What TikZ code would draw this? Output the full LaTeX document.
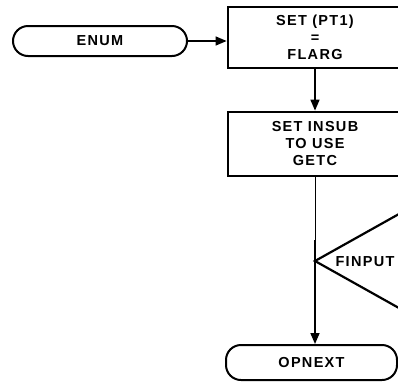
\documentclass[tikz,border=0pt]{standalone}
\usepackage{fontspec}
\setmainfont{Liberation Sans}[LetterSpace=9]
\usetikzlibrary{arrows.meta}
\begin{document}
\begin{tikzpicture}[x=1pt,y=-1pt,
  lbl/.style={font=\fontsize{14.5}{17}\selectfont\bfseries},
  term/.style={draw, line width=2pt, rounded corners=15pt, inner sep=0pt, lbl},
  proc/.style={draw, line width=2.8pt, minimum width=174pt, inner sep=0pt, align=center, lbl},
  flow/.style={line width=1.6pt, -{Triangle[length=11pt,width=9pt]}},
  thinflow/.style={line width=0.9pt},
  dec/.style={draw, line width=2.2pt},
]
\useasboundingbox (0,0) rectangle (398,381);
\clip (0,0) rectangle (398,381);
\node[term, minimum width=174pt, minimum height=30pt] (enum) at (100,41) {ENUM};
\node[proc, minimum height=61pt] (b1) at (315,37.5) {SET (PT1)\\=\\FLARG};
\node[proc, minimum height=64pt] (b2) at (315,144) {SET INSUB\\TO USE\\GETC};
\node[term, minimum width=171pt, minimum height=35pt] (opnext) at (311.5,362.5) {OPNEXT};
\coordinate (join) at (315,240);
\coordinate (dleft) at (315,261);
\draw[dec] (dleft) -- ++(100,-56) -- ++(100,56) -- ++(-100,56) -- cycle;
\node[lbl] (finput) at (365,262) {FINPUT};
\draw[flow, line width=1.3pt] (enum.east) -- (enum.east -| b1.west);
\draw[flow] (b1.south) -- (b2.north);
\draw[thinflow] (b2.south) -- (join);
\draw[flow] (join) -- (join |- opnext.north);
\end{tikzpicture}
\end{document}
